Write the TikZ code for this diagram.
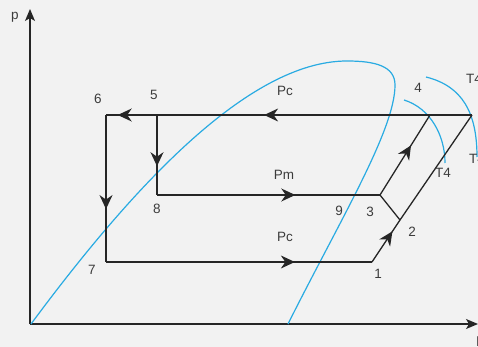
\documentclass[tikz,border=0pt]{standalone}
\usepackage{fontspec}
\setmainfont{Liberation Sans}
\usepackage{tikz}
\usetikzlibrary{arrows.meta, decorations.markings}
\definecolor{satblue}{RGB}{41,171,226}
\definecolor{ink}{RGB}{38,38,38}
\definecolor{paper}{RGB}{242,242,242}
\tikzset{
  ax/.style={-{Stealth[length=12pt, width=10pt, inset=3pt]}, line width=1.3pt, ink},
  cyc/.style={line width=1.3pt, ink},
  sat/.style={line width=1.2pt, satblue},
  lbl/.style={font=\fontsize{13.5}{15}\selectfont, text=ink!90, inner sep=0pt},
  midarr/.style={postaction={decorate}, decoration={markings,
      mark=at position #1 with {\arrow{Stealth[length=14pt, width=13pt, inset=4.5pt]}}}}
}
\begin{document}
\begin{tikzpicture}[x=1pt, y=-1pt]
  \fill[paper] (0,0) rectangle (478,347);
  \useasboundingbox (0,0) rectangle (478,347);
  % axes
  \coordinate (o) at (30,324);
  \coordinate (ytop) at (30,9);
  \coordinate (xend) at (478,324);
  \draw[ax] (o) -- (ytop);
  \draw[ax] (o) -- (xend);
  \node[lbl] (p) at (15,17) {p};
  \node[lbl] (h) at (480,342) {h};
  % cycle points
  \coordinate (p1) at (372,262);
  \coordinate (p2) at (400,220);
  \coordinate (p3) at (380,195);
  \coordinate (p4) at (430,115);
  \coordinate (q) at (472,115);
  \coordinate (p5) at (157,115);
  \coordinate (p6) at (106,115);
  \coordinate (p7) at (106,262);
  \coordinate (p8) at (157,195);
  % saturation dome
  \draw[sat] (31,324) .. controls (131,189) and (248,61) .. (347,61)
      .. controls (375,61) and (395,66) .. (395,85)
      .. controls (395,130) and (340,220) .. (288,324);
  % isotherms
  \draw[sat] (404,100) .. controls (430,108) and (445,135) .. (445,163);
  \draw[sat] (426,77) .. controls (462,86) and (477,112) .. (477,157);
  % cycle lines
  \draw[cyc, midarr=0.66] (q) -- (p5);
  \draw[cyc, midarr=0.77] (p5) -- (p6);
  \draw[cyc, midarr=0.64] (p5) -- (p8);
  \draw[cyc, midarr=0.64] (p6) -- (p7);
  \draw[cyc, midarr=0.71] (p7) -- (p1);
  \draw[cyc, midarr=0.62] (p8) -- (p3);
  \draw[cyc, midarr=0.73] (p1) -- (p2);
  \draw[cyc] (p2) -- (q);
  \draw[cyc] (p3) -- (p2);
  \draw[cyc, midarr=0.62] (p3) -- (p4);
  % labels
  \node[lbl] (l1) at (378,274) {1};
  \node[lbl] (l2) at (412,232) {2};
  \node[lbl] (l3) at (370,212) {3};
  \node[lbl] (l4) at (418,88) {4};
  \node[lbl] (l5) at (154,95) {5};
  \node[lbl] (l6) at (98,99) {6};
  \node[lbl] (l7) at (92,270) {7};
  \node[lbl] (l8) at (157,209) {8};
  \node[lbl] (l9) at (339,211) {9};
  \node[lbl] (pctop) at (285,91) {Pc};
  \node[lbl] (pm) at (284,175) {Pm};
  \node[lbl] (pcbot) at (285,237) {Pc};
  \node[lbl, anchor=west] (t4a) at (466,79) {T4};
  \node[lbl, anchor=west] (t4b) at (469,159) {T4};
  \node[lbl] (t4c) at (443,173) {T4};
\end{tikzpicture}
\end{document}
